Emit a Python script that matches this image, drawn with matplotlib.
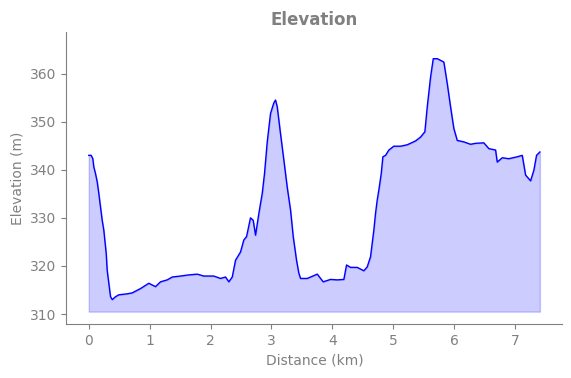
import matplotlib
matplotlib.use("Agg")
import matplotlib.pyplot as plt

distance_km = [0.000, 0.039, 0.066, 0.082, 0.110, 0.138, 0.164, 0.192, 0.220, 0.247,
               0.263, 0.286, 0.302, 0.329, 0.357, 0.385, 0.439, 0.493, 0.631, 0.713,
               0.850, 0.986, 1.096, 1.178, 1.288, 1.371, 1.507, 1.617, 1.781, 1.890,
               2.054, 2.164, 2.247, 2.301, 2.357, 2.411, 2.493, 2.547, 2.592, 2.657,
               2.701, 2.740, 2.794, 2.850, 2.887, 2.932, 2.986, 3.040, 3.068, 3.096,
               3.150, 3.205, 3.260, 3.315, 3.359, 3.413, 3.451, 3.479, 3.589, 3.754,
               3.808, 3.852, 3.972, 4.082, 4.191, 4.235, 4.301, 4.411, 4.519, 4.575,
               4.629, 4.684, 4.711, 4.739, 4.766, 4.805, 4.832, 4.876, 4.930, 5.012,
               5.122, 5.233, 5.369, 5.451, 5.522, 5.561, 5.616, 5.660, 5.726, 5.834,
               5.890, 5.944, 5.998, 6.054, 6.163, 6.273, 6.355, 6.491, 6.573, 6.684,
               6.711, 6.794, 6.902, 7.040, 7.122, 7.177, 7.259, 7.313, 7.357, 7.412]
elevation_m = [343.0, 343.0, 342.3, 340.6, 339.2, 337.5, 335.1, 332.3, 329.5, 327.4,
               325.4, 322.6, 319.1, 316.4, 313.6, 313.0, 313.6, 314.0, 314.2, 314.4,
               315.3, 316.4, 315.7, 316.7, 317.1, 317.7, 317.9, 318.1, 318.3, 317.9,
               317.9, 317.4, 317.7, 316.7, 317.7, 321.2, 322.9, 325.4, 326.1, 330.0,
               329.5, 326.4, 330.9, 335.1, 339.2, 345.8, 351.7, 353.9, 354.5, 353.1,
               347.5, 342.0, 336.4, 331.6, 326.1, 321.2, 318.5, 317.4, 317.4, 318.3,
               317.4, 316.7, 317.2, 317.1, 317.2, 320.2, 319.7, 319.7, 319.0, 319.8,
               321.9, 327.5, 330.9, 333.7, 335.8, 339.2, 342.7, 343.0, 344.1, 344.9,
               344.9, 345.2, 346.0, 346.8, 347.9, 353.1, 359.3, 363.1, 363.1, 362.4,
               357.9, 353.1, 348.6, 346.1, 345.8, 345.3, 345.5, 345.6, 344.4, 344.1,
               341.6, 342.5, 342.3, 342.7, 343.0, 338.9, 337.7, 339.9, 343.0, 343.7]
fill_base = 310.5

grey = "#808080"
fig = plt.figure(figsize=(5.71, 3.78), dpi=100)
ax = fig.add_axes([0.116, 0.142, 0.869, 0.774])
ax.fill_between(distance_km, elevation_m, fill_base, color="blue", alpha=0.2)
ax.plot(distance_km, elevation_m, color="blue", linewidth=1)
ax.set_ylim(307.86, 368.7)
ax.set_yticks([310, 320, 330, 340, 350, 360])
ax.set_xticks(range(0, 8))
ax.spines["top"].set_visible(False)
ax.spines["right"].set_visible(False)
for s in ("left", "bottom"):
    ax.spines[s].set_color(grey)
ax.tick_params(colors=grey, labelcolor=grey)
ax.set_xlabel("Distance (km)", color=grey)
ax.set_ylabel("Elevation (m)", color=grey)
ax.set_title("Elevation", color=grey, fontweight="bold", fontsize=12, pad=5)
fig.savefig("out.png", dpi=100)
